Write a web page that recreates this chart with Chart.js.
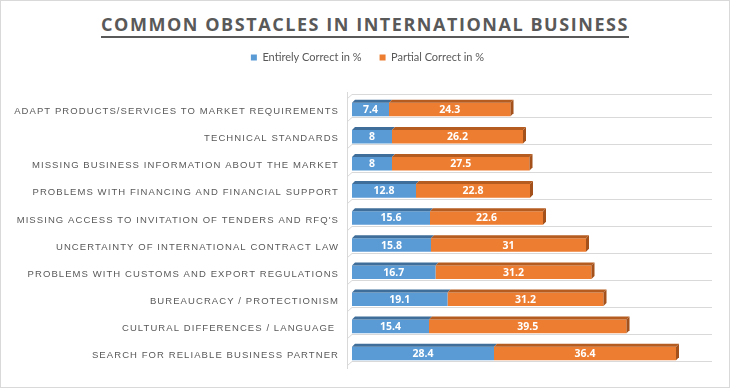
<!DOCTYPE html>
<html>
<head>
<meta charset="utf-8">
<script src="https://cdn.jsdelivr.net/npm/chart.js@4.4.1/dist/chart.umd.min.js"></script>
<style>
  html, body { margin: 0; padding: 0; background: #fff; }
  .wrap {
    position: relative;
    width: 730px;
    height: 388px;
    box-sizing: border-box;
    border: 1px solid #d9d9d9;
    background: #fff;
  }
  .title {
    position: absolute;
    left: 0;
    right: 0;
    top: 11px;
    text-align: center;
    font-family: "Open Sans", sans-serif;
    font-weight: 700;
    font-size: 18px;
    line-height: 24px;
    letter-spacing: 1.55px;
    color: #595959;
  }
  .title span {
    text-decoration: underline;
    text-decoration-thickness: 1.5px;
    text-underline-offset: 5px;
  }
  canvas { position: absolute; left: 0; top: 0; }
</style>
</head>
<body>
<div class="wrap">
  <div class="title"><span>COMMON OBSTACLES IN INTERNATIONAL BUSINESS</span></div>
  <canvas id="chart" width="728" height="386"></canvas>
</div>
<script>
const categories = [
    "ADAPT PRODUCTS/SERVICES TO MARKET REQUIREMENTS",
    "TECHNICAL STANDARDS",
    "MISSING BUSINESS INFORMATION ABOUT THE MARKET",
    "PROBLEMS WITH FINANCING AND FINANCIAL SUPPORT",
    "MISSING ACCESS TO INVITATION OF TENDERS AND RFQ'S",
    "UNCERTAINTY OF INTERNATIONAL CONTRACT LAW",
    "PROBLEMS WITH CUSTOMS AND EXPORT REGULATIONS",
    "BUREAUCRACY / PROTECTIONISM",
    "CULTURAL DIFFERENCES / LANGUAGE ",
    "SEARCH FOR RELIABLE BUSINESS PARTNER"
];
const entirelyCorrect = [7.4, 8, 8, 12.8, 15.6, 15.8, 16.7, 19.1, 15.4, 28.4];
const partialCorrect = [24.3, 26.2, 27.5, 22.8, 22.6, 31, 31.2, 31.2, 39.5, 36.4];
const seriesNames = ["Entirely Correct in %", "Partial Correct in %"];

const frontColors = ["#5B9BD5", "#ED7D31"];
const topColors = ["#3F6E9A", "#B55C21"];
const sideColor = "#A4511B";
const DX = 3, DY = 3;
const PAD_TOP = 33;
const CHART_TOP = 95;
const CHART_LEFT = 351;
const LEGEND_SHIFT = 11;

// fake 3d look: floor lines, left wall, top and side faces of the bars
const bars3d = {
    id: "bars3d",
    beforeDatasetsDraw(chart) {
        const ctx = chart.ctx;
        const area = chart.chartArea;
        const meta = chart.getDatasetMeta(0);
        ctx.save();
        ctx.strokeStyle = "#d9d9d9";
        ctx.lineWidth = 1;
        const wallX = area.left - 5;
        ctx.beginPath();
        ctx.moveTo(wallX + 0.5, area.top - 4);
        ctx.lineTo(wallX + 0.5, area.bottom + 2);
        const firstTop = meta.data[0].y - meta.data[0].height / 2;
        const lines = [firstTop - 9];
        meta.data.forEach(bar => lines.push(bar.y + bar.height / 2 + 1));
        lines.forEach(y => {
            const yy = Math.round(y) + 0.5;
            ctx.moveTo(wallX + 0.5, yy + 4);
            ctx.lineTo(area.left, yy);
            ctx.lineTo(area.right, yy);
        });
        ctx.stroke();
        ctx.restore();
    },
    afterDatasetsDraw(chart) {
        const ctx = chart.ctx;
        ctx.save();
        chart.data.datasets.forEach((ds, di) => {
            const meta = chart.getDatasetMeta(di);
            meta.data.forEach(bar => {
                const x0 = Math.min(bar.base, bar.x);
                const x1 = Math.max(bar.base, bar.x);
                const top = bar.y - bar.height / 2;
                const bottom = bar.y + bar.height / 2;
                ctx.fillStyle = topColors[di];
                ctx.beginPath();
                ctx.moveTo(x0, top);
                ctx.lineTo(x0 + DX, top - DY);
                ctx.lineTo(x1 + DX, top - DY);
                ctx.lineTo(x1, top);
                ctx.closePath();
                ctx.fill();
                if (di === chart.data.datasets.length - 1) {
                    ctx.fillStyle = sideColor;
                    ctx.beginPath();
                    ctx.moveTo(x1, top);
                    ctx.lineTo(x1 + DX, top - DY);
                    ctx.lineTo(x1 + DX, bottom - DY);
                    ctx.lineTo(x1, bottom);
                    ctx.closePath();
                    ctx.fill();
                }
            });
        });

        // value labels
        ctx.font = "bold 10.5px 'Open Sans', sans-serif";
        ctx.fillStyle = "#ffffff";
        ctx.textAlign = "center";
        ctx.textBaseline = "middle";
        chart.data.datasets.forEach((ds, di) => {
            chart.getDatasetMeta(di).data.forEach((bar, i) => {
                ctx.fillText(String(ds.data[i]), (bar.x + bar.base) / 2, bar.y + 0.5);
            });
        });
        ctx.restore();
    }
};

// spaced out category labels + legend nudged to the right
const tweaks = {
    id: "tweaks",
    afterLayout(chart) {
        chart.legend.left += LEGEND_SHIFT;
        chart.legend.right += LEGEND_SHIFT;
    },
    beforeDraw(chart) {
        const y = chart.scales.y;
        if (y._spaced) return;
        const orig = y.drawLabels.bind(y);
        y.drawLabels = function (area) {
            chart.ctx.save();
            chart.ctx.letterSpacing = "1.08px";
            orig(area);
            chart.ctx.restore();
        };
        y._spaced = true;
    }
};

const ctx = document.getElementById("chart").getContext("2d");
new Chart(ctx, {
    type: "bar",
    data: {
        labels: categories,
        datasets: [
            { label: seriesNames[0], data: entirelyCorrect, backgroundColor: frontColors[0] },
            { label: seriesNames[1], data: partialCorrect, backgroundColor: frontColors[1] }
        ]
    },
    options: {
        indexAxis: "y",
        responsive: false,
        animation: false,
        barPercentage: 0.5,
        categoryPercentage: 1,
        layout: { padding: { top: PAD_TOP, right: 17, bottom: 20, left: 0 } },
        scales: {
            x: {
                stacked: true,
                position: "top",
                min: 0,
                max: 72,
                grid: { display: false },
                border: { display: false },
                ticks: { display: false },
                afterFit(scale) {
                    scale.height = CHART_TOP - PAD_TOP - scale.chart.legend.height;
                }
            },
            y: {
                stacked: true,
                grid: { display: false, drawTicks: false },
                border: { display: false },
                ticks: {
                    padding: 13,
                    labelOffset: 2,
                    color: "#595959",
                    font: { family: "'Liberation Sans', Arial, sans-serif", size: 9.5 }
                },
                afterFit(scale) {
                    scale.width = CHART_LEFT;
                }
            }
        },
        plugins: {
            legend: {
                position: "top",
                labels: {
                    boxWidth: 6,
                    boxHeight: 6,
                    padding: 18,
                    color: "#595959",
                    font: { family: "Lato, sans-serif", size: 11 }
                }
            },
            tooltip: { enabled: false }
        }
    },
    plugins: [bars3d, tweaks]
});
</script>
</body>
</html>
